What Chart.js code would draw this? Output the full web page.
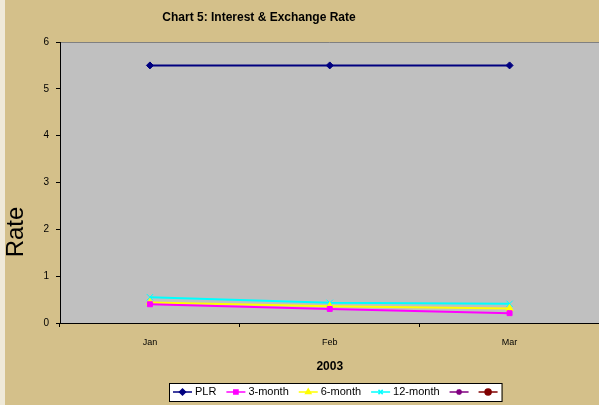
<!DOCTYPE html>
<html>
<head>
<meta charset="utf-8">
<script src="https://cdn.jsdelivr.net/npm/chart.js@4"></script>
<style>
    html, body { margin: 0; padding: 0; background: #efe9d8; }
    #wrap { position: absolute; left: 5px; top: 0; width: 594px; height: 405px; background: #d4c08a; overflow: hidden; }
</style>
</head>
<body>
<div id="wrap"><canvas id="rateChart" width="600" height="405"></canvas></div>
<script>
const categories = ['Jan', 'Feb', 'Mar'];
const plr = [5.5, 5.5, 5.5];
const month3 = [0.40, 0.30, 0.21];
const month6 = [0.44, 0.36, 0.31];
const month12 = [0.55, 0.43, 0.41];
const yTicks = [0, 1, 2, 3, 4, 5, 6];

const FONT = 'Arial, "Liberation Sans", sans-serif';

document.addEventListener('DOMContentLoaded', function() {
    const ctx = document.getElementById('rateChart').getContext('2d');

    // grey plot area, chart title and the axis title "Rate"
    const plotBg = {
        id: 'plotBg',
        beforeDraw(chart) {
            const a = chart.chartArea, c = chart.ctx;
            c.save();
            c.fillStyle = '#c0c0c0';
            c.fillRect(a.left, a.top, a.right - a.left, a.bottom - a.top);
            c.strokeStyle = '#808080';
            c.lineWidth = 1;
            c.beginPath();
            c.moveTo(a.left, a.top + 0.5);
            c.lineTo(a.right, a.top + 0.5);
            c.stroke();
            c.fillStyle = '#000';
            c.font = 'bold 12px ' + FONT;
            c.textAlign = 'center';
            c.textBaseline = 'middle';
            c.fillText('Chart 5: Interest & Exchange Rate', 254, 18);
            c.font = '24px ' + FONT;
            c.translate(11, 232);
            c.rotate(-Math.PI / 2);
            c.fillText('Rate', 0, 0);
            c.restore();
        }
    };

    // boxed legend with line + marker samples
    const boxLegend = {
        id: 'boxLegend',
        afterDraw(chart) {
            const c = chart.ctx;
            const sets = chart.data.datasets;
            c.save();
            c.font = '11px ' + FONT;
            const lineLen = 19, gapText = 3, gapItem = 10, pad = 4;
            let total = pad;
            sets.forEach(function(ds, i) {
                total += lineLen;
                if (ds.label) total += gapText + c.measureText(ds.label).width;
                total += (i < sets.length - 1 ? gapItem : pad);
            });
            const y = 392;
            const left = Math.round((chart.chartArea.left + chart.chartArea.right) / 2 + 6 - total / 2);
            c.fillStyle = '#fff';
            c.fillRect(left, 383, total, 18);
            c.strokeStyle = '#000';
            c.lineWidth = 1;
            c.strokeRect(left + 0.5, 383.5, total, 18);
            let x = left + pad;
            sets.forEach(function(ds) {
                c.strokeStyle = ds.borderColor;
                c.lineWidth = 1.5;
                c.beginPath();
                c.moveTo(x, y);
                c.lineTo(x + lineLen, y);
                c.stroke();
                c.fillStyle = ds.pointBackgroundColor;
                c.strokeStyle = ds.pointBorderColor;
                if (Chart.helpers && Chart.helpers.drawPoint) {
                    Chart.helpers.drawPoint(c, { pointStyle: ds.pointStyle, radius: 3, rotation: 0, borderWidth: 1 }, x + lineLen / 2, y);
                }
                x += lineLen;
                if (ds.label) {
                    c.fillStyle = '#000';
                    c.textAlign = 'left';
                    c.textBaseline = 'middle';
                    x += gapText;
                    c.fillText(ds.label, x, y);
                    x += c.measureText(ds.label).width;
                }
                x += gapItem;
            });
            c.restore();
        }
    };

    function series(label, data, color, style, radius) {
        return {
            label: label,
            data: data,
            borderColor: color,
            backgroundColor: color,
            borderWidth: 2,
            pointStyle: style,
            pointRadius: radius,
            pointBackgroundColor: color,
            pointBorderColor: color,
            pointBorderWidth: 1,
            tension: 0,
            fill: false
        };
    }

    new Chart(ctx, {
        type: 'line',
        data: {
            labels: categories,
            datasets: [
                series('PLR', plr, '#000080', 'rectRot', 3.5),
                series('3-month', month3, '#ff00ff', 'rect', 3.5),
                series('6-month', month6, '#ffff00', 'triangle', 4),
                series('12-month', month12, '#00ffff', 'crossRot', 4.5),
                series('', [], '#800080', 'star', 4),
                series('', [], '#800000', 'circle', 3)
            ]
        },
        options: {
            responsive: false,
            animation: false,
            layout: { padding: { top: 42, bottom: 27, left: 0, right: 0 } },
            plugins: {
                legend: { display: false },
                title: { display: false },
                tooltip: { enabled: false }
            },
            scales: {
                x: {
                    offset: true,
                    grid: { offset: true, drawOnChartArea: false, drawTicks: true, tickLength: 4, color: '#000' },
                    border: { color: '#000', width: 1 },
                    ticks: { color: '#000', font: { family: FONT, size: 9 }, padding: 10, maxRotation: 0 },
                    title: { display: true, text: '2003', color: '#000', font: { family: FONT, size: 12, weight: 'bold' }, padding: { top: 0, bottom: 4 } },
                    afterFit: function(scale) {
                        scale.height = 55;
                        scale.paddingLeft = 0;
                        scale.paddingRight = 0;
                    }
                },
                y: {
                    min: 0,
                    max: 6,
                    afterBuildTicks: function(scale) { scale.ticks = yTicks.map(function(v) { return { value: v }; }); },
                    grid: { drawOnChartArea: false, drawTicks: true, tickLength: 4, color: '#000' },
                    border: { color: '#000', width: 1 },
                    ticks: { color: '#000', font: { family: FONT, size: 10 }, padding: 7 },
                    afterFit: function(scale) { scale.width = 55; }
                }
            }
        },
        plugins: [plotBg, boxLegend]
    });
});
</script>
</body>
</html>
